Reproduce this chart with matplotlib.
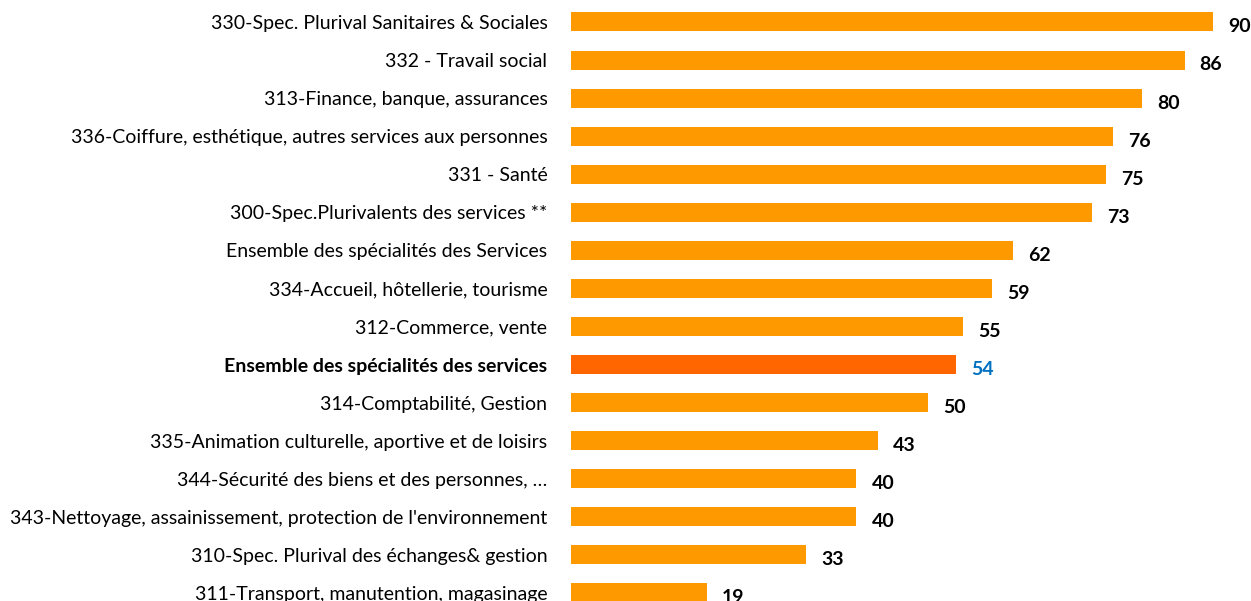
import matplotlib
matplotlib.use("Agg")
from matplotlib import pyplot as plt

categories = [
    "330-Spec. Plurival Sanitaires & Sociales",
    "332 - Travail social",
    "313-Finance, banque, assurances",
    "336-Coiffure, esthétique, autres services aux personnes",
    "331 - Santé",
    "300-Spec.Plurivalents des services **",
    "Ensemble des spécialités des Services",
    "334-Accueil, hôtellerie, tourisme",
    "312-Commerce, vente",
    "Ensemble des spécialités des services",
    "314-Comptabilité, Gestion",
    "335-Animation culturelle, aportive et de loisirs",
    "344-Sécurité des biens et des personnes, …",
    "343-Nettoyage, assainissement, protection de l'environnement",
    "310-Spec. Plurival des échanges& gestion",
    "311-Transport, manutention, magasinage",
]
values = [90, 86, 80, 76, 75, 73, 62, 59, 55, 54, 50, 43, 40, 40, 33, 19]
highlight = 9

plt.rcParams['font.family'] = ['Lato', 'DejaVu Sans']

fig = plt.figure(figsize=(12.51, 6.01), dpi=100)
ax = fig.add_axes([571 / 1251, 0, 1 - 571 / 1251, 1])

pos = list(range(len(values)))
colors = ['#FF6600' if i == highlight else '#FF9900' for i in pos]
ax.barh(pos, values, height=0.5, color=colors)

# value labels, bold, just right of each bar
for i, v in enumerate(values):
    c = '#0070C0' if i == highlight else 'black'
    ax.text(v + 2.1, i + 0.13, str(v), va='center', ha='left',
            fontsize=14, fontweight='bold', color=c)

ax.set_yticks(pos)
ax.set_yticklabels(categories, fontsize=14)
ax.get_yticklabels()[highlight].set_fontweight('bold')
ax.tick_params(axis='y', length=0, pad=17)
ax.set_xticks([])
ax.set_xlim(0, 95.3)
ax.set_ylim(15.21, -0.577)
for s in ax.spines.values():
    s.set_visible(False)

fig.savefig("out.png", dpi=100)
